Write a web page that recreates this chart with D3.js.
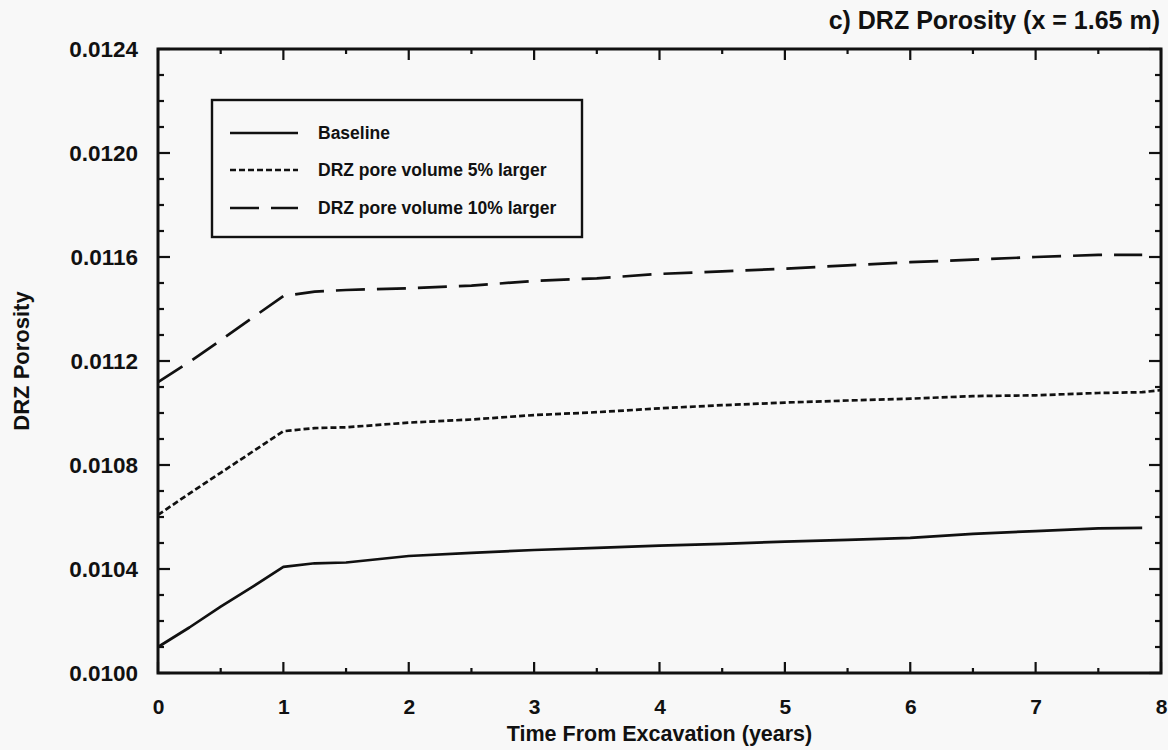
<!DOCTYPE html>
<html>
<head>
<meta charset="utf-8">
<script src="https://cdn.jsdelivr.net/npm/d3@7/dist/d3.min.js"></script>
<style>
  html, body { margin: 0; padding: 0; background: #f8f8f8; }
  svg { display: block; }
  text { font-family: "Liberation Sans", Arial, Helvetica, sans-serif; fill: #111; }
</style>
</head>
<body>
<svg id="chart" width="1168" height="750"></svg>
<script>
// Time after excavation (years)
const timeYears = [0, 0.25, 0.5, 0.75, 1, 1.25, 1.5, 2, 2.5, 3, 3.5, 4, 4.5, 5, 5.5, 6, 6.5, 7, 7.5, 7.85, 8];

// DRZ porosity at x = 1.65 m for each case (null = no value)
const baseline = [0.010100, 0.010175, 0.010255, 0.010330, 0.010408, 0.010422, 0.010425, 0.010450, 0.010462, 0.010473, 0.010481, 0.010490, 0.010497, 0.010505, 0.010512, 0.010520, 0.010535, 0.010546, 0.010556, 0.010558, null];
const pore5 = [0.010608, 0.010690, 0.010770, 0.010850, 0.010930, 0.010942, 0.010945, 0.010963, 0.010975, 0.010992, 0.011003, 0.011018, 0.011030, 0.011040, 0.011048, 0.011055, 0.011065, 0.011068, 0.011077, 0.011080, 0.011088];
const pore10 = [0.011119, 0.011196, 0.011280, 0.011365, 0.011450, 0.011467, 0.011473, 0.011480, 0.011490, 0.011508, 0.011518, 0.011535, 0.011545, 0.011555, 0.011568, 0.011580, 0.011590, 0.011600, 0.011608, 0.011608, null];

const seriesNames = ["Baseline", "DRZ pore volume 5% larger", "DRZ pore volume 10% larger"];
const xTickValues = [0, 1, 2, 3, 4, 5, 6, 7, 8];
const yTickValues = [0.0100, 0.0104, 0.0108, 0.0112, 0.0116, 0.0120, 0.0124];

const titleText = "c) DRZ Porosity (x = 1.65 m)";
const xTitle = "Time From Excavation (years)";
const yTitle = "DRZ Porosity";

const svg = d3.select("#chart");
const plot = { left: 158, right: 1161, top: 49, bottom: 673 };

const x = d3.scaleLinear().domain([0, 8]).range([plot.left, plot.right]);
const y = d3.scaleLinear().domain([0.0100, 0.0124]).range([plot.bottom, plot.top]);

const dashes = [null, "6,3", "29,12"];
const seriesValues = [baseline, pore5, pore10];

// Curves
const line = d3.line()
  .defined(d => d[1] != null)
  .x(d => x(d[0]))
  .y(d => y(d[1]));

seriesValues.forEach((vals, i) => {
  const pts = timeYears.map((t, k) => [t, vals[k]]);
  svg.append("path")
    .datum(pts)
    .attr("fill", "none")
    .attr("stroke", "#111")
    .attr("stroke-width", 2.7)
    .attr("stroke-dasharray", dashes[i])
    .attr("stroke-linejoin", "round")
    .attr("d", line);
});

// Ticks drawn inward on all four sides
const xMinor = d3.range(0, 8.01, 0.5);
const yMinor = d3.range(0, 25).map(k => 0.0100 + k * 0.0001);
const isMajorX = v => Math.abs(v - Math.round(v)) < 1e-9;
const isMajorY = v => Math.abs(v * 2500 - Math.round(v * 2500)) < 1e-6;

const ticks = svg.append("g").attr("stroke", "#111").attr("stroke-width", 2.2);
xMinor.forEach(v => {
  const len = isMajorX(v) ? 11 : 5;
  ticks.append("line").attr("x1", x(v)).attr("x2", x(v)).attr("y1", plot.bottom).attr("y2", plot.bottom - len);
  ticks.append("line").attr("x1", x(v)).attr("x2", x(v)).attr("y1", plot.top).attr("y2", plot.top + len);
});
yMinor.forEach(v => {
  const len = isMajorY(v) ? 12 : 6;
  ticks.append("line").attr("x1", plot.left).attr("x2", plot.left + len).attr("y1", y(v)).attr("y2", y(v));
  ticks.append("line").attr("x1", plot.right).attr("x2", plot.right - len).attr("y1", y(v)).attr("y2", y(v));
});

// Frame
svg.append("rect")
  .attr("x", plot.left).attr("y", plot.top)
  .attr("width", plot.right - plot.left).attr("height", plot.bottom - plot.top)
  .attr("fill", "none").attr("stroke", "#111").attr("stroke-width", 3);

// Tick labels via d3 axes (lines hidden, labels only)
const xAxis = svg.append("g")
  .attr("transform", `translate(0,${plot.bottom})`)
  .call(d3.axisBottom(x).tickValues(xTickValues).tickFormat(d3.format("d")).tickSize(0).tickPadding(26));
const yAxis = svg.append("g")
  .attr("transform", `translate(${plot.left},0)`)
  .call(d3.axisLeft(y).tickValues(yTickValues).tickFormat(d3.format(".4f")).tickSize(0).tickPadding(20));
[xAxis, yAxis].forEach(g => {
  g.select(".domain").remove();
  g.selectAll("text")
    .attr("font-family", "Liberation Sans, Arial, sans-serif")
    .attr("font-weight", "bold")
    .attr("fill", "#111");
});
xAxis.selectAll("text").attr("font-size", 21);
yAxis.selectAll("text").attr("font-size", 22.5);

// Titles
svg.append("text")
  .attr("x", 1160).attr("y", 29)
  .attr("text-anchor", "end")
  .attr("font-size", 25).attr("font-weight", "bold")
  .text(titleText);

svg.append("text")
  .attr("x", (plot.left + plot.right) / 2).attr("y", 741)
  .attr("text-anchor", "middle")
  .attr("font-size", 21.5).attr("font-weight", "bold")
  .text(xTitle);

svg.append("text")
  .attr("transform", `translate(29,${(plot.top + plot.bottom) / 2}) rotate(-90)`)
  .attr("text-anchor", "middle")
  .attr("font-size", 22).attr("font-weight", "bold")
  .text(yTitle);

// Legend
const legend = svg.append("g");
legend.append("rect")
  .attr("x", 212).attr("y", 100).attr("width", 370).attr("height", 137)
  .attr("fill", "#f8f8f8").attr("stroke", "#111").attr("stroke-width", 2.4);
const rowY = [133, 170, 208];
seriesNames.forEach((name, i) => {
  legend.append("line")
    .attr("x1", 230).attr("x2", 298).attr("y1", rowY[i]).attr("y2", rowY[i])
    .attr("stroke", "#111").attr("stroke-width", 2.7)
    .attr("stroke-dasharray", dashes[i]);
  legend.append("text")
    .attr("x", 318).attr("y", rowY[i] + 6)
    .attr("font-size", 17.5).attr("font-weight", "bold")
    .text(name);
});
</script>
</body>
</html>
